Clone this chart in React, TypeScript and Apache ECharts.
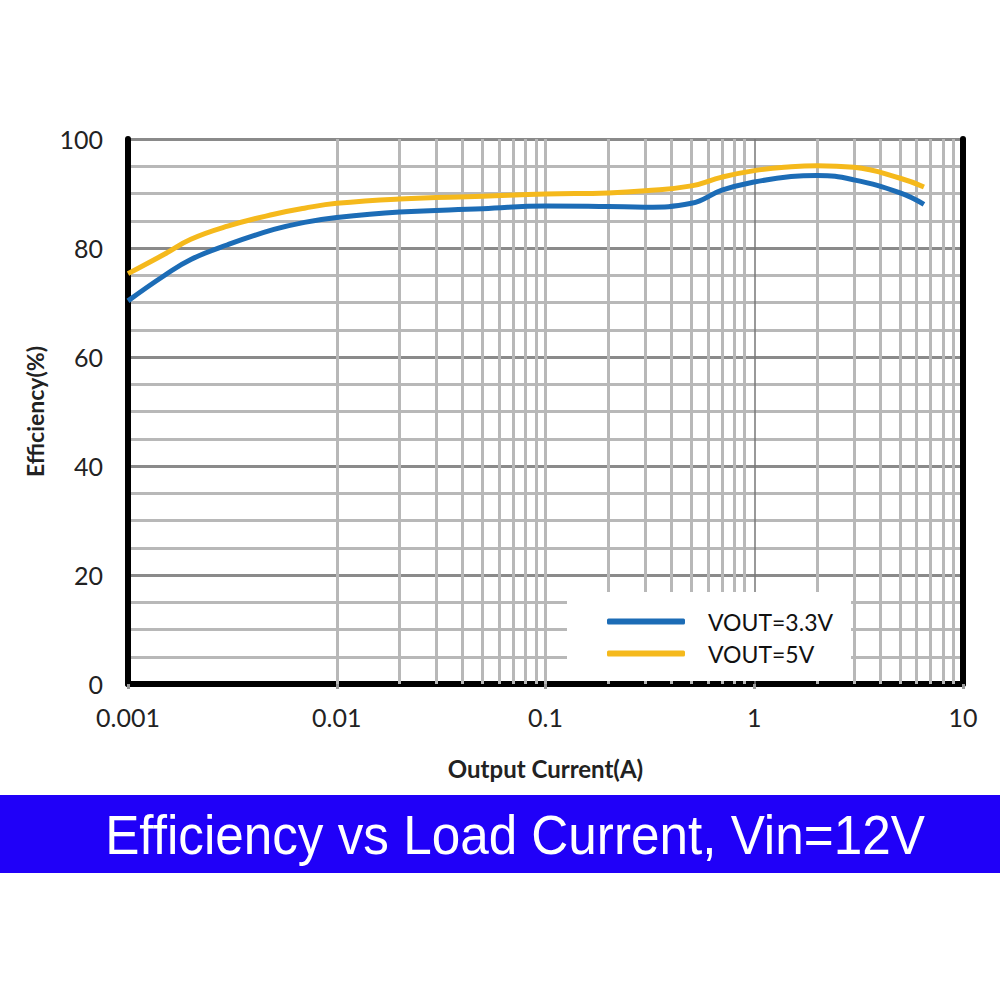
import React, { useEffect, useRef } from "react";
import * as echarts from "echarts";

const currentA = [0.001, 0.0015, 0.002, 0.003, 0.005, 0.007, 0.01, 0.02, 0.05, 0.1, 0.2, 0.3, 0.5, 0.7, 1, 1.5, 2, 3, 5, 6.5];
const eff33 = [70.3, 75.0, 77.9, 80.6, 83.4, 84.7, 85.6, 86.6, 87.2, 87.7, 87.6, 87.5, 88.2, 90.6, 92.1, 93.1, 93.3, 92.5, 90.1, 88.0];
const eff5 = [75.3, 78.9, 81.6, 84.0, 86.2, 87.3, 88.2, 89.0, 89.5, 89.9, 90.1, 90.5, 91.4, 93.0, 94.2, 94.9, 95.1, 94.8, 92.8, 91.2];

const xTickLabels = ["0.001", "0.01", "0.1", "1", "10"];
const xGridValues = [
  0.002, 0.003, 0.004, 0.005, 0.006, 0.007, 0.008, 0.009, 0.01,
  0.02, 0.03, 0.04, 0.05, 0.06, 0.07, 0.08, 0.09, 0.1,
  0.2, 0.3, 0.4, 0.5, 0.6, 0.7, 0.8, 0.9,
  2, 3, 4, 5, 6, 7, 8, 9,
];
const seriesNames = ["VOUT=3.3V", "VOUT=5V"];
const titleText = "Efficiency vs Load Current, Vin=12V";

const FONT = "Lato, 'Open Sans', sans-serif";

export default function App() {
  const ref = useRef<HTMLDivElement>(null);
  useEffect(() => {
    document.body.style.margin = "0";
    const chart = echarts.init(ref.current!, undefined, { renderer: "svg" });
    const toPairs = (ys: number[]) => currentA.map((x, i) => [x, ys[i]]);
    chart.setOption({
      animation: false,
      backgroundColor: "#ffffff",
      grid: { left: 128, right: 37, top: 139, bottom: 316 },
      xAxis: [
        {
          type: "log",
          logBase: 10,
          min: 0.001,
          max: 10,
          name: "Output Current(A)",
          nameLocation: "middle",
          nameGap: 72,
          nameTextStyle: { fontFamily: FONT, fontWeight: "bold", fontSize: 24, color: "#222" },
          axisLine: { show: true, lineStyle: { color: "#111", width: 3 } },
          axisTick: { show: true, length: 5, lineStyle: { color: "#999", width: 3 } },
          axisLabel: {
            margin: 20,
            fontFamily: FONT,
            fontSize: 25,
            color: "#222",
            formatter: (_v: number, i: number) => xTickLabels[i] ?? "",
          },
          splitLine: { show: false },
          minorTick: { show: false },
        },
        {
          type: "log",
          logBase: 10,
          min: 0.001,
          max: 10,
          position: "top",
          axisLine: { show: true, lineStyle: { color: "#000", width: 6 } },
          axisTick: { show: false },
          axisLabel: { show: false },
          splitLine: { show: false },
        },
      ],
      yAxis: [
        {
          type: "value",
          min: 0,
          max: 100,
          interval: 20,
          name: "Efficiency(%)",
          nameLocation: "middle",
          nameGap: 82,
          nameTextStyle: { fontFamily: FONT, fontWeight: "bold", fontSize: 23, color: "#222" },
          axisLine: { show: true, lineStyle: { color: "#000", width: 6 } },
          axisTick: { show: false },
          axisLabel: { margin: 25, fontFamily: FONT, fontSize: 25, color: "#222" },
          splitLine: { show: true, lineStyle: { color: "#8a8a8a", width: 3 } },
          minorTick: { show: false, splitNumber: 4 },
          minorSplitLine: { show: true, lineStyle: { color: "#b8b8b8", width: 3 } },
        },
        {
          type: "value",
          min: 0,
          max: 100,
          position: "right",
          axisLine: { show: true, lineStyle: { color: "#000", width: 6 } },
          axisTick: { show: false },
          axisLabel: { show: false },
          splitLine: { show: false },
        },
      ],
      legend: {
        data: seriesNames,
        orient: "vertical",
        left: 567,
        top: 592,
        z: 10,
        backgroundColor: "#ffffff",
        padding: [18, 18, 16, 40],
        itemWidth: 78,
        itemHeight: 6,
        itemGap: 9,
        icon: "roundRect",
        textStyle: { fontFamily: FONT, fontSize: 23, color: "#111", padding: [0, 0, 0, 18] },
      },
      graphic: [
        {
          type: "rect",
          shape: { x: 0, y: 795, width: 1000, height: 78 },
          style: { fill: "#2000f8" },
        },
        {
          type: "text",
          x: 515,
          y: 834,
          scaleX: 0.915,
          style: {
            text: titleText,
            fill: "#ffffff",
            font: "56px 'Liberation Sans', Arial, sans-serif",
            align: "center",
            verticalAlign: "middle",
          },
        },
      ],
      series: [
        {
          name: "grid",
          type: "line",
          data: [],
          silent: true,
          z: 1,
          markLine: {
            silent: true,
            z: 1,
            symbol: "none",
            label: { show: false },
            lineStyle: { color: "#b8b8b8", width: 3, type: "solid" },
            data: [
              ...xGridValues.map((v) => ({ xAxis: v })),
              { xAxis: 1, lineStyle: { color: "#777", width: 1.5, type: "solid" } },
            ],
          },
        },
        {
          name: seriesNames[0],
          type: "line",
          data: toPairs(eff33),
          smooth: 0.45,
          showSymbol: false,
          z: 3,
          itemStyle: { color: "#1c6cb6" },
          lineStyle: { color: "#1c6cb6", width: 5 },
        },
        {
          name: seriesNames[1],
          type: "line",
          data: toPairs(eff5),
          smooth: 0.45,
          showSymbol: false,
          z: 3,
          itemStyle: { color: "#f5b91c" },
          lineStyle: { color: "#f5b91c", width: 5 },
        },
      ],
    });
    return () => chart.dispose();
  }, []);
  return <div ref={ref} style={{ width: 1000, height: 1000 }} />;
}
